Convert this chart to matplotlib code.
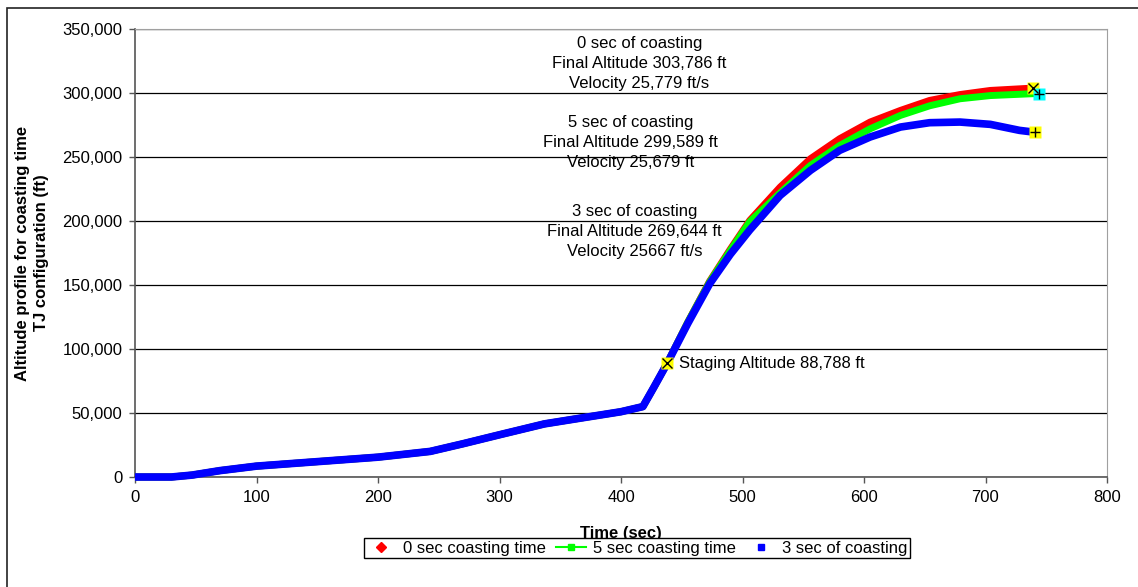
import matplotlib
matplotlib.use("Agg")
import matplotlib.pyplot as plt
from matplotlib.lines import Line2D
from matplotlib.patches import Rectangle
from matplotlib.ticker import FuncFormatter

plt.rcParams['font.family'] = ['Liberation Sans', 'DejaVu Sans']

# time (sec) and altitude (ft)
time_0 = [0, 30, 47, 70, 100, 150, 200, 243, 270, 300, 337, 370, 400, 418, 427,
          438, 455, 473, 490, 506, 531, 556, 580, 605, 630, 654, 679, 704, 738]
alt_0 = [0, 0, 1500, 5000, 8500, 12000, 15500, 20000, 26000, 33000, 41500, 46500,
         51000, 55000, 70000, 88788, 121000, 153000, 178000, 200500, 226500, 248700,
         264300, 277300, 286400, 294200, 298800, 302000, 303786]

time_5 = [0, 30, 47, 70, 100, 150, 200, 243, 270, 300, 337, 370, 400, 418, 427,
          438, 455, 473, 490, 506, 531, 556, 580, 605, 630, 654, 679, 704, 742]
alt_5 = [0, 0, 1500, 5000, 8500, 12000, 15500, 20000, 26000, 33000, 41500, 46500,
         51000, 55000, 70000, 88788, 121000, 152500, 177000, 199500, 222000, 243500,
         259000, 272000, 282500, 290000, 295500, 298000, 299589]

time_3 = [0, 30, 47, 70, 100, 150, 200, 243, 270, 300, 337, 370, 400, 418, 427,
          438, 455, 473, 490, 506, 531, 556, 580, 605, 630, 654, 679, 704, 728, 738]
alt_3 = [0, 0, 1500, 5000, 8500, 12000, 15500, 20000, 26000, 33000, 41500, 46500,
         51000, 55000, 70000, 88788, 120000, 151000, 174000, 193000, 220000, 239600,
         255200, 265600, 273400, 276800, 277300, 275500, 270800, 269644]

staging_time = 438
staging_alt = 88788
end_time = [739, 744, 741]
end_alt = [303786, 299589, 269644]
end_face = ['yellow', 'cyan', 'yellow']
end_sym = ['x', '+', '+']

notes = [
    (415, 323000, "0 sec of coasting\nFinal Altitude 303,786 ft\nVelocity 25,779 ft/s"),
    (408, 261000, "5 sec of coasting\nFinal Altitude 299,589 ft\nVelocity 25,679 ft"),
    (411, 192000, "3 sec of coasting\nFinal Altitude 269,644 ft\nVelocity 25667 ft/s"),
]

fig = plt.figure(figsize=(11.38, 5.87), dpi=100)
ax = fig.add_axes([135 / 1138, 1 - 477 / 587, 972 / 1138, 448 / 587])

# chart area border (cut off on right / bottom)
fig.patches.append(Rectangle((7 / 1138, -0.1), 1.2, 1 - 8 / 587 + 0.1,
                             transform=fig.transFigure, fill=False,
                             edgecolor='#222222', linewidth=1.2))

style = dict(solid_capstyle='butt', solid_joinstyle='round', clip_on=False)
ax.plot(time_0, alt_0, color='#ff0000', lw=5, zorder=3, **style)
ax.plot(time_5, alt_5, color='#00ff00', lw=5, zorder=4, **style)
ax.plot(time_3, alt_3, color='#0000ff', lw=5.5, zorder=5, **style)

ax.plot(staging_time, staging_alt, marker='s', ms=8, color='yellow', mec='none', zorder=6)
ax.plot(staging_time, staging_alt, marker='x', ms=7, color='black', mew=1, zorder=7)
for tx, ay, fc, sym in zip(end_time, end_alt, end_face, end_sym):
    ax.plot(tx, ay, marker='s', ms=8, color=fc, mec='none', zorder=6, clip_on=False)
    ax.plot(tx, ay, marker=sym, ms=7, color='black', mew=1, zorder=7, clip_on=False)

for x, y, s in notes:
    ax.text(x, y, s, ha='center', va='center', fontsize=12, linespacing=1.42, zorder=8)
ax.text(staging_time + 10, staging_alt, "Staging Altitude 88,788 ft",
        ha='left', va='center', fontsize=12, zorder=8)

ax.set_xlim(0, 800)
ax.set_ylim(0, 350000)
ax.set_xticks(range(0, 801, 100))
ax.set_yticks(range(0, 350001, 50000))
ax.yaxis.set_major_formatter(FuncFormatter(lambda v, p: f"{int(v):,}"))
ax.tick_params(labelsize=12, length=4.5, width=1, color='#555555', pad=4.5)
ax.grid(axis='y', color='black', lw=0.9)
ax.set_axisbelow(True)
for side in ['top', 'right']:
    ax.spines[side].set_color('#a0a0a0')
for side in ['left', 'bottom']:
    ax.spines[side].set_color('#555555')
    ax.spines[side].set_linewidth(1.2)

ax.set_xlabel("Time (sec)", fontsize=12, fontweight='bold', va='top')
ax.xaxis.set_label_coords(0.5, -0.11)
ax.set_ylabel("Altitude profile for coasting time\nTJ configuration (ft)",
              fontsize=12, fontweight='bold', va='center', linespacing=1.35)
ax.yaxis.set_label_coords(-0.106, 0.5)

handles = [
    Line2D([], [], color='#ff0000', marker='D', ls='none', ms=5),
    Line2D([], [], color='#00ff00', marker='s', ms=4, lw=1.5),
    Line2D([], [], color='#0000ff', marker='s', ls='none', ms=5),
]
labels = ["0 sec coasting time", "5 sec coasting time", "3 sec of coasting"]
leg = fig.legend(handles, labels, loc='center', bbox_to_anchor=(637 / 1138, 1 - 548 / 587),
                 ncol=3, fontsize=12, frameon=True, fancybox=False, framealpha=1,
                 edgecolor='black', borderpad=0.15, handlelength=1.8, handletextpad=0.4,
                 columnspacing=0.6, borderaxespad=0)
leg.get_frame().set_linewidth(1)

fig.savefig("out.png", dpi=100)
